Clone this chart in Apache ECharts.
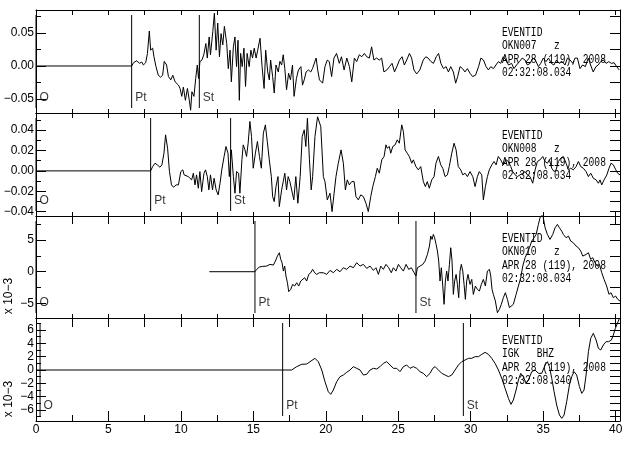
<!DOCTYPE html>
<html><head><meta charset="utf-8">
<script src="https://cdn.jsdelivr.net/npm/echarts@6/dist/echarts.min.js"></script>
<style>html,body{margin:0;padding:0;background:#fff}#c{width:633px;height:449px}</style>
</head><body><div id="c"></div>
<script>
// ---------------- DATA ----------------
const trace1 = [[0,0],[6.6,0],[6.73,0.005],[6.96,0.008],[7.14,0.004],[7.3,0.006],[7.41,0.0015],[7.57,0.005],[7.69,0.019],[7.82,0.053],[7.91,0.024],[8.05,0.027],[8.14,0.014],[8.28,-0.001],[8.44,-0.014],[8.6,-0.017],[8.74,-0.014],[8.85,0.007],[9.01,0.0015],[9.14,-0.016],[9.3,-0.021],[9.44,-0.014],[9.6,-0.024],[9.71,-0.021],[9.83,-0.029],[9.94,-0.034],[10.06,-0.046],[10.17,-0.032],[10.31,-0.052],[10.45,-0.034],[10.58,-0.052],[10.67,-0.067],[10.76,-0.039],[10.9,-0.046],[11.02,-0.019],[11.13,0.0015],[11.22,-0.019],[11.31,0.0066],[11.45,0.009],[11.58,0.017],[11.72,0.034],[11.82,0.012],[11.95,0.044],[12.04,0.017],[12.2,0.052],[12.31,0.08],[12.43,0.024],[12.54,0.065],[12.66,0.014],[12.77,0.049],[12.89,0.032],[13.0,0.06],[13.16,0.034],[13.27,-0.004],[13.39,0.024],[13.48,-0.024],[13.62,0.029],[13.73,0.044],[13.84,-0.001],[13.94,0.039],[14.03,-0.052],[14.12,0.019],[14.23,-0.001],[14.35,0.027],[14.46,-0.031],[14.57,0.019],[14.71,-0.001],[14.83,0.024],[14.94,0.012],[15.06,0.027],[15.19,0.012],[15.3,0.024],[15.46,0.042],[15.6,-0.001],[15.74,-0.034],[15.85,0.024],[15.99,-0.009],[16.1,-0.021],[16.19,0.009],[16.33,-0.016],[16.44,-0.041],[16.56,0.0015],[16.72,-0.009],[16.83,0.007],[16.95,0.0015],[17.06,0.017],[17.17,-0.004],[17.29,-0.036],[17.43,-0.011],[17.56,-0.021],[17.7,0.0015],[17.81,-0.046],[17.97,-0.019],[18.11,-0.006],[18.28,-0.001],[18.39,-0.029],[18.51,-0.021],[18.64,-0.009],[18.8,-0.006],[18.96,-0.009],[19.08,-0.004],[19.21,-0.001],[19.33,0.012],[19.44,-0.006],[19.56,-0.021],[19.78,-0.026],[19.94,-0.001],[20.1,0.009],[20.24,0.0066],[20.4,-0.016],[20.56,0.012],[20.74,0.019],[20.93,0.004],[21.08,0.014],[21.26,-0.006],[21.45,0.012],[21.63,-0.001],[21.79,-0.024],[21.97,0.012],[22.13,0.0066],[22.31,0.017],[22.48,0.014],[22.66,0.019],[22.82,0.014],[23.0,0.012],[23.16,0.029],[23.32,0.009],[23.5,0.012],[23.69,0.009],[23.85,0.012],[24.01,-0.009],[24.21,-0.006],[24.39,-0.001],[24.57,0.004],[24.74,-0.009],[24.9,-0.001],[25.08,0.009],[25.26,0.014],[25.42,0.0015],[25.58,0.009],[25.77,0.019],[25.92,0.012],[26.08,-0.006],[26.27,-0.012],[26.49,-0.006],[26.72,0.009],[26.9,0.014],[27.06,0.012],[27.26,0.0066],[27.43,0.004],[27.62,0.014],[27.78,0.019],[27.94,0.004],[28.12,-0.004],[28.3,-0.001],[28.46,-0.009],[28.62,-0.001],[28.8,-0.009],[28.96,-0.026],[29.1,-0.016],[29.26,-0.001],[29.44,-0.004],[29.6,-0.009],[29.77,-0.004],[29.95,-0.011],[30.13,-0.016],[30.33,-0.014],[30.54,-0.001],[30.7,0.012],[30.88,0.009],[31.06,-0.001],[31.22,-0.006],[31.38,-0.001],[31.56,-0.004],[31.74,0.0015],[31.91,0.0066],[32.07,0.004],[32.24,0.014],[32.43,0.009],[32.61,0.0015],[32.82,0.004],[32.98,-0.004],[33.16,0.0015],[33.36,0.0066],[33.55,0.012],[33.75,0.009],[33.91,0.0015],[34.1,0.004],[34.28,0.012],[34.46,0.009],[34.67,-0.001],[34.83,0.004],[35.01,0.012],[35.19,0.0066],[35.37,0.012],[35.56,0.004],[35.74,0.0015],[35.92,0.009],[36.1,0.004],[36.31,0.0066],[36.51,0.0015],[36.67,0.012],[36.86,0.009],[37.04,0.004],[37.2,0.012],[37.36,0.012],[37.54,-0.004],[37.72,0.0015],[37.91,-0.001],[38.11,0.012],[38.27,0.0015],[38.45,-0.009],[38.64,-0.001],[38.8,0.0015],[38.96,0.0066],[39.15,0.009],[39.34,0.004],[39.52,0.0066],[39.71,0.004],[39.89,0.005],[40.07,-0.001],[40.25,-0.006]];

const trace2 = [[0,0],[7.91,0],[8.05,0.0042],[8.21,0.0075],[8.37,0.0059],[8.55,0.0036],[8.69,0.0059],[8.83,0.0173],[8.94,0.0353],[9.08,0.0222],[9.21,-0.0007],[9.35,-0.0137],[9.49,-0.016],[9.67,-0.0137],[9.83,-0.0137],[9.99,-0.0007],[10.13,0.001],[10.22,-0.0039],[10.35,-0.0023],[10.51,-0.0056],[10.63,-0.0039],[10.74,-0.0088],[10.86,-0.0023],[10.97,-0.0137],[11.08,-0.0039],[11.2,-0.017],[11.31,-0.0007],[11.43,-0.0203],[11.59,-0.0023],[11.7,0.001],[11.82,-0.0056],[11.93,-0.0186],[12.04,-0.0039],[12.18,-0.0186],[12.29,-0.0072],[12.43,-0.0186],[12.57,-0.0235],[12.7,-0.0121],[12.82,0.001],[12.98,0.0141],[13.11,0.0239],[13.25,0.0173],[13.34,-0.0056],[13.48,0.0206],[13.62,-0.0056],[13.73,-0.0219],[13.84,-0.0007],[13.98,-0.0023],[14.07,-0.0219],[14.21,0.0108],[14.3,0.0255],[14.42,0.0206],[14.53,0.0141],[14.64,0.0271],[14.76,0.0484],[14.87,0.0337],[14.99,0.0026],[15.14,0.0173],[15.28,0.0288],[15.42,0.0141],[15.55,0.0026],[15.69,0.0369],[15.83,0.0451],[15.96,0.0288],[16.1,0.0108],[16.24,-0.0056],[16.33,-0.0252],[16.44,-0.0301],[16.56,-0.0154],[16.7,-0.0056],[16.79,-0.035],[16.95,-0.0186],[17.06,-0.0105],[17.17,-0.0023],[17.29,-0.0186],[17.4,-0.0056],[17.52,-0.0105],[17.65,-0.0121],[17.79,-0.0284],[17.93,-0.0056],[18.07,-0.0317],[18.23,-0.0056],[18.37,0.0337],[18.51,0.0402],[18.62,0.0239],[18.73,0.0516],[18.87,0.0108],[18.99,-0.0186],[19.09,-0.0056],[19.25,0.0337],[19.43,0.053],[19.65,0.0435],[19.83,-0.0056],[19.94,-0.0105],[20.1,-0.0284],[20.29,-0.0219],[20.43,-0.0399],[20.57,-0.0219],[20.7,-0.0056],[20.86,0.0075],[21.05,0.0206],[21.21,0.0075],[21.35,-0.0186],[21.48,-0.0088],[21.62,-0.0137],[21.79,-0.0105],[21.95,-0.0105],[22.08,-0.0252],[22.24,-0.0284],[22.41,-0.0235],[22.59,-0.0252],[22.77,-0.0317],[22.93,-0.0399],[23.1,-0.0252],[23.24,-0.0154],[23.42,-0.0056],[23.55,0.0026],[23.69,-0.0023],[23.86,0.0108],[24.02,0.0141],[24.15,0.0255],[24.24,0.0222],[24.38,0.0239],[24.48,0.0173],[24.62,0.0239],[24.78,0.0255],[24.93,0.0304],[25.07,0.0271],[25.24,0.0451],[25.35,0.0386],[25.47,0.0206],[25.62,0.0173],[25.76,0.0141],[25.93,0.0075],[26.04,0.0108],[26.22,0.0042],[26.38,0.001],[26.55,0.0042],[26.73,-0.0105],[26.87,-0.0154],[27.0,-0.0105],[27.14,-0.017],[27.31,-0.0088],[27.47,-0.0056],[27.6,0.0075],[27.77,0.0141],[27.93,0.0059],[28.07,0.0026],[28.23,-0.0056],[28.39,-0.0039],[28.52,0.0042],[28.69,0.0173],[28.85,0.0271],[28.99,0.0206],[29.14,0.0042],[29.31,0.001],[29.45,-0.0039],[29.61,-0.0023],[29.77,-0.0056],[29.95,-0.0007],[30.14,-0.0056],[30.3,-0.0154],[30.46,-0.0056],[30.59,-0.0007],[30.76,-0.0039],[30.87,-0.0284],[31.01,-0.0154],[31.15,-0.0056],[31.28,0.001],[31.45,0.0059],[31.61,0.0092],[31.75,0.0059],[31.9,0.0141],[32.07,0.0108],[32.25,0.0059],[32.44,0.0108],[32.6,0.0092],[32.76,0.0042],[32.9,-0.0007],[33.06,-0.0039],[33.22,-0.0056],[33.4,-0.0039],[33.59,-0.0023],[33.75,-0.0007],[33.91,-0.0039],[34.09,-0.0056],[34.28,-0.0121],[34.44,0.001],[34.6,0.0092],[34.78,0.0108],[34.97,0.0141],[35.13,0.0092],[35.29,0.0075],[35.43,0.0108],[35.59,0.0026],[35.75,-0.0007],[35.89,0.001],[36.05,0.0092],[36.21,0.0124],[36.39,0.0141],[36.58,0.0075],[36.74,0.001],[36.9,0.0026],[37.08,0.001],[37.27,0.0042],[37.43,0.0092],[37.59,0.0042],[37.77,0.0026],[37.96,-0.0007],[38.12,-0.0056],[38.28,-0.0023],[38.46,-0.0072],[38.65,-0.0088],[38.81,-0.0121],[38.92,-0.0088],[39.04,-0.0137],[39.2,-0.0088],[39.39,-0.0039],[39.54,0.0026],[39.68,0.0075],[39.84,0.0059],[40.01,0.001],[40.14,-0.0023],[40.3,-0.0039]];

const trace3 = [[11.96,0],[15.11,0],[15.23,0.37],[15.41,0.74],[15.64,0.84],[15.92,0.89],[16.15,1.16],[16.38,1.05],[16.52,1.68],[16.66,2.47],[16.79,3.0],[16.89,1.95],[16.98,1.42],[17.07,0.1],[17.16,0.89],[17.25,-0.68],[17.35,-1.74],[17.44,-3.15],[17.58,-2.79],[17.71,-2.0],[17.85,-2.26],[17.99,-1.74],[18.13,-2.26],[18.27,-1.47],[18.4,-1.74],[18.54,-0.95],[18.68,-1.47],[18.82,-0.42],[18.96,-0.16],[19.09,0.37],[19.23,-0.16],[19.37,-0.42],[19.55,-0.16],[19.83,-0.16],[20.06,-0.42],[20.29,0.21],[20.52,-0.16],[20.75,0.37],[20.98,0],[21.21,0.63],[21.44,0.37],[21.67,0.89],[21.9,0.63],[22.13,1.42],[22.36,0.89],[22.59,1.16],[22.82,0.53],[23.05,0.89],[23.28,0.21],[23.46,0.63],[23.63,-0.42],[23.79,0.89],[23.97,0.37],[24.15,1.16],[24.34,0.63],[24.52,-0.16],[24.66,0.63],[24.84,0.1],[25.01,1.16],[25.17,0.63],[25.35,0.1],[25.54,1.16],[25.72,0.37],[25.9,0.63],[26.09,-0.16],[26.22,-0.68],[26.32,0.63],[26.5,0.89],[26.69,1.16],[26.85,1.68],[27.01,2.73],[27.15,4.05],[27.24,5.63],[27.33,5.1],[27.42,5.89],[27.51,5.36],[27.61,4.31],[27.7,3.26],[27.79,1.68],[27.88,-1.47],[27.97,0.63],[28.07,-2.26],[28.16,-5.15],[28.25,-1.47],[28.34,0.1],[28.43,-1.47],[28.53,1.16],[28.62,3.79],[28.71,1.68],[28.8,-3.58],[28.89,-1.47],[28.99,-0.42],[29.08,-2.0],[29.17,-4.1],[29.26,0.1],[29.35,1.16],[29.45,0.1],[29.54,-2.0],[29.63,-4.36],[29.72,-1.47],[29.81,-0.42],[29.95,-2.0],[30.07,-1.21],[30.18,-3.58],[30.32,-2.26],[30.46,-2.79],[30.6,-3.05],[30.73,-2.0],[30.87,-1.21],[31.01,-2.26],[31.15,0.1],[31.29,0.37],[31.38,-0.68],[31.47,-2.79],[31.56,-3.58],[31.7,-4.63],[31.84,-6.47],[31.98,-5.94],[32.11,-5.15],[32.25,-4.1],[32.39,-3.31],[32.53,-4.36],[32.67,-5.68],[32.8,-5.42],[32.94,-5.15],[33.13,-3.58],[33.29,-2.26],[33.45,-0.95],[33.59,0.89],[33.75,2.21],[33.91,3.0],[34.05,3.79],[34.21,4.84],[34.37,5.36],[34.51,5.89],[34.67,7.47],[34.78,8.52],[34.92,9.0],[35.01,8.52],[35.13,6.94],[35.29,5.89],[35.47,5.1],[35.66,5.89],[35.82,6.94],[35.98,7.47],[36.12,6.94],[36.28,6.41],[36.39,5.89],[36.58,5.36],[36.74,5.63],[36.9,4.84],[37.08,4.57],[37.27,4.05],[37.43,3.79],[37.59,3.26],[37.73,2.47],[37.82,2.21],[37.96,2.73],[38.12,3.0],[38.28,1.95],[38.42,2.21],[38.58,1.42],[38.74,0.89],[38.88,1.16],[39.04,-0.16],[39.2,-1.21],[39.38,-2.26],[39.54,-3.58],[39.68,-3.31],[39.84,-4.1],[40.0,-3.84],[40.14,-4.36],[40.3,-4.63]];

const trace4 = [[0,0],[17.64,0],[17.99,0.5],[18.33,0.85],[18.68,0.9],[18.91,1.25],[19.25,1.75],[19.48,1.25],[19.72,0],[19.94,-1.75],[20.17,-3.25],[20.34,-3.65],[20.52,-3.0],[20.75,-1.75],[20.98,-1.0],[21.21,-0.75],[21.44,-0.35],[21.67,0],[21.9,0.5],[22.13,0.25],[22.36,0],[22.59,-0.75],[22.82,-0.65],[23.05,0],[23.28,0.25],[23.51,0.15],[23.74,0.5],[23.97,1.0],[24.2,1.25],[24.43,0.75],[24.66,0.25],[24.89,0.25],[25.12,-0.25],[25.35,0.5],[25.58,0.75],[25.81,0.25],[26.04,0.5],[26.27,0.25],[26.5,-0.25],[26.73,-0.5],[26.96,-1.0],[27.08,-1.25],[27.19,-0.5],[27.38,0.25],[27.54,0.5],[27.77,0],[28.0,-0.5],[28.23,-0.75],[28.46,-1.0],[28.69,-0.75],[28.92,0],[29.15,0.75],[29.38,1.25],[29.61,1.5],[29.84,1.75],[30.07,1.75],[30.3,2.0],[30.53,2.0],[30.76,2.35],[30.99,2.65],[31.22,2.35],[31.45,1.75],[31.68,1.0],[31.91,0],[32.14,-1.25],[32.37,-2.75],[32.6,-4.25],[32.78,-5.15],[32.94,-4.5],[33.13,-3.0],[33.29,-1.5],[33.45,-0.5],[33.63,-1.0],[33.82,-2.0],[33.98,-1.5],[34.21,-0.25],[34.44,0],[34.67,-0.5],[34.9,-0.5],[35.13,0.75],[35.29,1.25],[35.43,0.5],[35.59,-1.25],[35.75,-3.25],[35.93,-5.25],[36.12,-6.75],[36.28,-7.25],[36.44,-6.75],[36.62,-4.75],[36.81,-2.25],[36.97,-1.0],[37.13,-0.25],[37.31,-0.75],[37.5,-2.5],[37.66,-3.5],[37.82,-3.0],[37.96,-0.75],[38.12,2.75],[38.28,4.75],[38.46,5.5],[38.65,4.5],[38.81,3.25],[38.97,3.0],[39.15,3.75],[39.34,4.25],[39.52,4.25],[39.71,4.5],[39.84,5.25],[39.98,6.25],[40.12,7.0],[40.26,7.75]];

const traces = [trace1, trace2, trace3, trace4];

// time axis
const xRange = [0, 40.3];
const xLabelTicks = [0, 5, 10, 15, 20, 25, 30, 35, 40];
const xMinorTicks = [2.5, 7.5, 12.5, 17.5, 22.5, 27.5, 32.5, 37.5];
const xAllTicks = [0, 2.5, 5, 7.5, 10, 12.5, 15, 17.5, 20, 22.5, 25, 27.5, 30, 32.5, 35, 37.5, 40];

// amplitude axes (panels 3 and 4 are in units of 10^-3)
const yRanges = [[-0.0712, 0.0848], [-0.0442, 0.0567], [-7.31, 8.8], [-7.65, 7.8]];
const yMajorTicks = [[-0.05, 0, 0.05], [-0.04, -0.02, 0, 0.02, 0.04], [-5, 0, 5], [-6, -4, -2, 0, 2, 4, 6]];
const yMinorTicks = [[-0.025, 0.025, 0.075], [-0.03, -0.01, 0.01, 0.03, 0.05], [-2.5, 2.5, 7.5], [-7, -5, -3, -1, 1, 3, 5, 7]];
const yRightTicks = [[-0.05, -0.025, 0, 0.025, 0.05, 0.075], [-0.04, -0.03, -0.02, -0.01, 0, 0.01, 0.02, 0.03, 0.04, 0.05], [-5, -2.5, 0, 2.5, 5, 7.5], [-7, -6, -5, -4, -3, -2, -1, 0, 1, 2, 3, 4, 5, 6, 7]];
const yLabelDecimals = [2, 2, 0, 0];
const yScaleNote = ['', '', 'x 10\u22123', 'x 10\u22123'];

// phase picks: name, time
const picks = [
  [['O', 0], ['Pt', 6.6], ['St', 11.27]],
  [['O', 0], ['Pt', 7.91], ['St', 13.43]],
  [['O', 0], ['Pt', 15.11], ['St', 26.22]],
  [['O', 0.28], ['Pt', 17.02], ['St', 29.49]]
];

// header texts
const eventIds = ['EVENTID', 'EVENTID', 'EVENTID', 'EVENTID'];
const stations = ['OKN007   z', 'OKN008   z', 'OKN010   z', 'IGK   BHZ'];
const dates = ['APR 28 (119), 2008', 'APR 28 (119), 2008', 'APR 28 (119), 2008', 'APR 28 (119), 2008'];
const clocks = ['02:32:08.034', '02:32:08.034', '02:32:08.034', '02:32:08.340'];

// ---------------- LAYOUT / STYLE ----------------
const FONT = '"Liberation Sans", Arial, sans-serif';
const MONO = '"Liberation Mono", "DejaVu Sans Mono", monospace';
const gridTops = [10, 113, 216, 318];
const gridHeights = [103, 103, 102, 103];
const gridLeft = 36, gridWidth = 584;
const topTickLen = [5, 5, 8, 9];

function fmt(v, d) {
  let s = Number(v).toFixed(d);
  if (Math.abs(v) < 1e-12) s = (0).toFixed(d);
  return s.replace('-', '\u2212');
}

const grids = [], xAxes = [], yAxes = [], series = [], graphics = [];
const black = '#000';

for (let i = 0; i < 4; i++) {
  grids.push({left: gridLeft, width: gridWidth, top: gridTops[i], height: gridHeights[i], show: false});
  const [ymin, ymax] = yRanges[i];
  const h = gridHeights[i];
  const perPx = (ymax - ymin) / h;

  // x axes
  const xMain = xAxes.length;
  xAxes.push({
    type: 'value', gridIndex: i, position: 'bottom', min: xRange[0], max: xRange[1],
    axisLine: {show: true, onZero: false, lineStyle: {color: black, width: 1}},
    axisTick: {show: true, inside: true, length: i === 3 ? 10 : 4,
      customValues: i === 3 ? xLabelTicks : xAllTicks, lineStyle: {color: black, width: 1}},
    axisLabel: {show: i === 3, customValues: xLabelTicks, color: black, fontFamily: FONT, fontSize: 12, margin: 3},
    splitLine: {show: false}
  });
  if (i === 3) {
    xAxes.push({
      type: 'value', gridIndex: i, position: 'bottom', min: xRange[0], max: xRange[1],
      axisLine: {show: false, onZero: false},
      axisTick: {show: true, inside: true, length: 6, customValues: xMinorTicks, lineStyle: {color: black, width: 1}},
      axisLabel: {show: false}, splitLine: {show: false}
    });
  }
  xAxes.push({
    type: 'value', gridIndex: i, position: 'top', min: xRange[0], max: xRange[1],
    axisLine: {show: true, onZero: false, lineStyle: {color: black, width: 1}},
    axisTick: {show: true, inside: true, length: topTickLen[i], customValues: xAllTicks, lineStyle: {color: black, width: 1}},
    axisLabel: {show: false}, splitLine: {show: false}
  });

  // y axes
  const yMain = yAxes.length;
  const dec = yLabelDecimals[i];
  yAxes.push({
    type: 'value', gridIndex: i, position: 'left', min: ymin, max: ymax,
    axisLine: {show: true, onZero: false, lineStyle: {color: black, width: 1}},
    axisTick: {show: true, inside: true, length: 10, customValues: yMajorTicks[i], lineStyle: {color: black, width: 1}},
    axisLabel: {show: true, customValues: yMajorTicks[i], color: black, fontFamily: FONT, fontSize: 12, margin: 2,
      formatter: v => fmt(v, dec)},
    splitLine: {show: false}
  });
  yAxes.push({
    type: 'value', gridIndex: i, position: 'left', min: ymin, max: ymax,
    axisLine: {show: false, onZero: false},
    axisTick: {show: true, inside: true, length: 5, customValues: yMinorTicks[i], lineStyle: {color: black, width: 1}},
    axisLabel: {show: false}, splitLine: {show: false}
  });
  yAxes.push({
    type: 'value', gridIndex: i, position: 'right', min: ymin, max: ymax,
    axisLine: {show: true, onZero: false, lineStyle: {color: black, width: 1}},
    axisTick: {show: true, inside: true, length: 10, customValues: yRightTicks[i], lineStyle: {color: black, width: 1}},
    axisLabel: {show: false}, splitLine: {show: false}
  });

  // waveform
  series.push({
    type: 'line', xAxisIndex: xMain, yAxisIndex: yMain, data: traces[i],
    showSymbol: false, symbol: 'none', silent: true, animation: false, clip: true,
    lineStyle: {color: black, width: 1}, z: 3
  });

  // pick lines and labels
  const top = ymax - 5 * perPx, bot = ymin + 5 * perPx, labY = ymin + 15 * perPx;
  picks[i].forEach(([name, t]) => {
    series.push({
      type: 'line', xAxisIndex: xMain, yAxisIndex: yMain, data: [[t, top], [t, bot]],
      showSymbol: false, symbol: 'none', silent: true, animation: false,
      lineStyle: {color: black, width: 1}, z: 3
    });
  });
  series.push({
    type: 'scatter', xAxisIndex: xMain, yAxisIndex: yMain, symbolSize: 1, silent: true, animation: false,
    itemStyle: {color: 'rgba(0,0,0,0)'},
    data: picks[i].map(([name, t]) => ({name: name, value: [t, labY]})),
    label: {show: true, position: 'right', distance: 3, formatter: '{b}', color: black, fontFamily: FONT, fontSize: 12},
    z: 4
  });

  // header block
  graphics.push({
    type: 'text', x: 502, y: gridTops[i] + 16, scaleX: 0.74, z: 10,
    style: {text: [eventIds[i], stations[i], dates[i], clocks[i]].join('\n'),
      font: '13px ' + MONO, fill: black, lineHeight: 13.3, textAlign: 'left', textVerticalAlign: 'top'}
  });

  if (yScaleNote[i]) {
    graphics.push({
      type: 'text', x: 9, y: gridTops[i] + h - 22, rotation: Math.PI / 2, z: 10,
      style: {text: yScaleNote[i], font: '12px ' + FONT, fill: black, textAlign: 'center', textVerticalAlign: 'middle'}
    });
  }
}

const chart = echarts.init(document.getElementById('c'), null, {renderer: 'canvas'});
chart.setOption({
  animation: false,
  backgroundColor: '#fff',
  grid: grids,
  xAxis: xAxes,
  yAxis: yAxes,
  series: series,
  graphic: graphics
});
</script>
</body></html>
